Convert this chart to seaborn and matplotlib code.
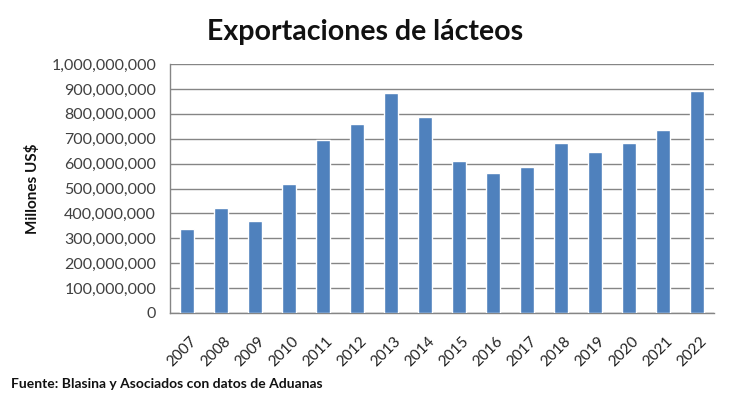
import matplotlib
matplotlib.use("Agg")
import matplotlib.pyplot as plt
import matplotlib.ticker as mticker
import matplotlib.transforms as mtrans
import seaborn as sns
import pandas as pd

years = ["2007", "2008", "2009", "2010", "2011", "2012", "2013", "2014",
         "2015", "2016", "2017", "2018", "2019", "2020", "2021", "2022"]
values = [338e6, 421e6, 368e6, 520e6, 693e6, 760e6, 882e6, 787e6,
          612e6, 561e6, 588e6, 681e6, 647e6, 681e6, 734e6, 891e6]

title = "Exportaciones de lácteos"
ylabel = "Millones US$"
source = "Fuente: Blasina y Asociados con datos de Aduanas"

df = pd.DataFrame({"year": years, "value": values})

sns.set_theme(style="white")
plt.rcParams["font.family"] = ["Lato", "DejaVu Sans"]

fig = plt.figure(figsize=(7.3, 4.05), dpi=100)
ax = fig.add_axes([170/730, 1-313/405, (714-170)/730, (313-64)/405])

sns.barplot(data=df, x="year", y="value", color="#4F81BD", saturation=1,
            width=0.39, ax=ax, zorder=3)

ax.set_ylim(0, 1e9)
ax.set_xlim(-0.5, len(years) - 0.5)
ax.yaxis.set_major_locator(mticker.MultipleLocator(1e8))
ax.yaxis.set_major_formatter(mticker.FuncFormatter(lambda v, p: f"{int(round(v)):,}"))
ax.grid(axis="y", color="#858585", linewidth=1.0, zorder=0)
ax.set_axisbelow(True)

for s in ["top", "right"]:
    ax.spines[s].set_visible(False)
for s in ["left", "bottom"]:
    ax.spines[s].set_color("#858585")
    ax.spines[s].set_linewidth(1.0)

ax.tick_params(axis="y", labelsize=11.5, colors="#404040", length=0, pad=10)
ax.tick_params(axis="x", labelsize=11, colors="#222222", length=0, pad=15)
for lbl in ax.get_yticklabels():
    lbl.set_color("#404040")
offset = mtrans.ScaledTranslation(3/100, 0, fig.dpi_scale_trans)
for lbl in ax.get_xticklabels():
    lbl.set_rotation(45)
    lbl.set_ha("right")
    lbl.set_rotation_mode("anchor")
    lbl.set_transform(lbl.get_transform() + offset)

ax.set_xlabel("")
ax.set_ylabel(ylabel, fontsize=11, fontweight="bold", color="#111111", labelpad=8)

fig.text(0.5, 1-32/405, title, ha="center", va="center",
         fontsize=20.5, fontweight="bold", color="#111111")
fig.text(11/730, 1-384/405, source, ha="left", va="center",
         fontsize=10, fontweight="bold", color="#111111")

fig.savefig("out.png", dpi=100)
